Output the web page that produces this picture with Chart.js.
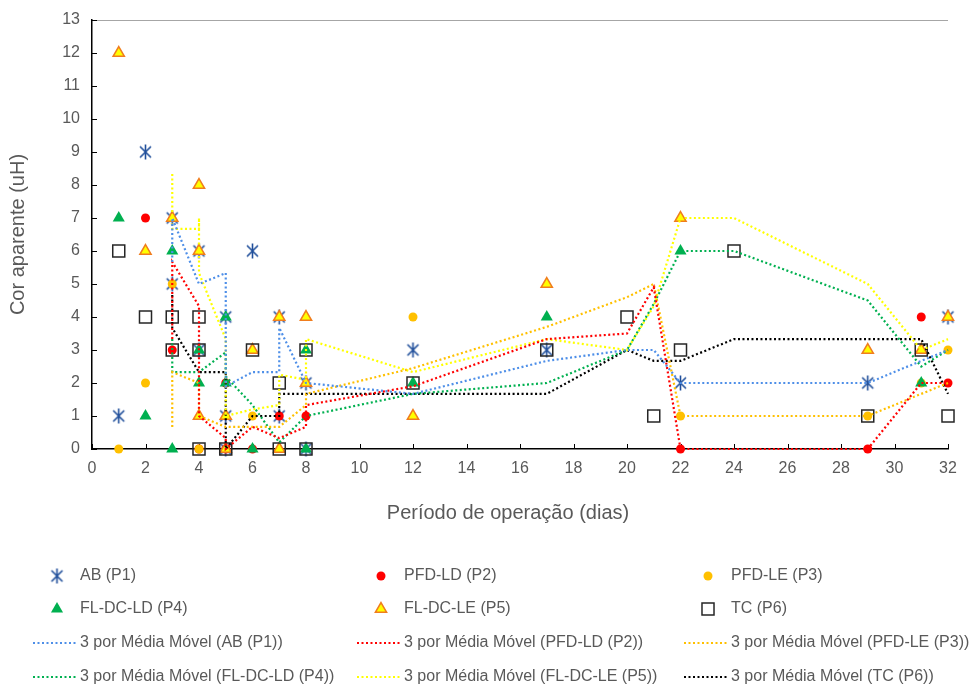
<!DOCTYPE html>
<html>
<head>
<meta charset="utf-8">
<script src="https://cdn.jsdelivr.net/npm/chart.js@4.4.0/dist/chart.umd.min.js"></script>
<style>
  html, body { margin: 0; padding: 0; background: #fff; }
</style>
</head>
<body>
<canvas id="CorChart" width="974" height="688"></canvas>
<script>
// readings per sample point (x = day, y = apparent colour)
var abX = [1, 2, 3, 3, 4, 4, 5, 5, 5, 6, 7, 7, 8, 8, 12, 17, 22, 29, 32];
var abY = [1, 9, 7, 5, 6, 3, 4, 1, 0, 6, 4, 1, 2, 0, 3, 3, 2, 2, 4];

var pfdLdX = [2, 3, 4, 5, 5, 6, 7, 8, 22, 29, 31, 32];
var pfdLdY = [7, 3, 0, 2, 0, 0, 1, 1, 0, 0, 4, 2];

var pfdLeX = [1, 2, 3, 4, 6, 12, 22, 29, 31, 32];
var pfdLeY = [0, 2, 5, 0, 1, 4, 1, 1, 2, 3];

var flLdX = [1, 2, 3, 3, 4, 4, 5, 5, 6, 8, 8, 12, 17, 22, 31];
var flLdY = [7, 1, 6, 0, 3, 2, 4, 2, 0, 3, 0, 2, 4, 6, 2];

var flLeX = [1, 2, 3, 4, 4, 4, 5, 5, 6, 7, 7, 8, 8, 12, 17, 22, 29, 31, 32];
var flLeY = [12, 6, 7, 8, 6, 1, 1, 0, 3, 4, 0, 4, 2, 1, 5, 7, 3, 3, 4];

var tcX = [1, 2, 3, 3, 4, 4, 4, 5, 6, 7, 7, 8, 8, 12, 17, 20, 21, 22, 24, 29, 31, 32];
var tcY = [6, 4, 4, 3, 4, 3, 0, 0, 3, 2, 0, 3, 0, 2, 3, 4, 1, 3, 6, 1, 3, 1];

// 3 period moving average trendlines
var maAbX = [3, 3, 4, 5, 5, 6, 7, 7, 8, 8, 12, 17, 20, 21, 22, 29, 31, 32];
var maAbY = [5.67, 7, 5, 5.33, 1.9, 2.33, 2.33, 3.67, 2, 2, 1.67, 2.67, 3, 3, 2, 2, 2.67, 3];

var maPfdLdX = [3, 3, 4, 4, 5, 5, 6, 7, 8, 8, 12, 17, 20, 21, 22, 29, 31, 32];
var maPfdLdY = [3.33, 5.67, 4.33, 1, 0.33, 0, 0.67, 0.33, 0.67, 1.33, 1.9, 3.33, 3.5, 4.9, 0, 0, 2, 2];

var maPfdLeX = [3, 3, 4, 4, 5, 6, 7, 8, 8, 12, 17, 20, 21, 22, 29, 31, 32];
var maPfdLeY = [0.67, 2.33, 2, 1, 0.67, 0.67, 0.67, 1.33, 1.67, 2.45, 3.7, 4.6, 5, 1, 1, 1.67, 2];

var maFlLdX = [3, 3, 4, 4, 5, 5, 6, 7, 8, 12, 17, 20, 21, 22, 24, 29, 31, 32];
var maFlLdY = [3.33, 2.33, 2.33, 2.33, 2.93, 2.2, 1.33, 0.2, 1, 1.67, 2, 3, 4.4, 6, 6, 4.5, 2.5, 3];

var maFlLeX = [3, 3, 4, 4, 4, 5, 5, 6, 7, 7, 8, 8, 12, 17, 20, 21, 22, 24, 29, 31, 32];
var maFlLeY = [8.33, 6.67, 6.67, 7, 5.33, 3.33, 1, 1.2, 1.33, 2.25, 2.1, 3.33, 2.33, 3.33, 3, 4.33, 7, 7, 5, 3, 3.33];

var maTcX = [3, 3, 4, 4, 4, 5, 5, 5, 6, 7, 7, 8, 8, 12, 17, 20, 21, 22, 24, 29, 31, 32];
var maTcY = [4.67, 3.67, 2.33, 2.33, 2.33, 2.33, 1, 0, 1, 1, 1.67, 1.67, 1.67, 1.67, 1.67, 3, 2.67, 2.67, 3.33, 3.33, 3.33, 1.67];

var xTicks = [0, 2, 4, 6, 8, 10, 12, 14, 16, 18, 20, 22, 24, 26, 28, 30, 32];
var yTicks = [0, 1, 2, 3, 4, 5, 6, 7, 8, 9, 10, 11, 12, 13];

var xTitle = 'Período de operação (dias)';

Chart.defaults.font.family = "'Liberation Sans', Arial, sans-serif";
Chart.defaults.color = '#595959';

function toPoints(xs, ys) {
  return xs.map(function (x, i) {
    return { x: x, y: ys[i] };
  });
}

// excel style asterisk: an X with a vertical bar
function makeAsterisk(color) {
  var c = document.createElement('canvas');
  c.width = 17;
  c.height = 17;
  var g = c.getContext('2d');
  g.strokeStyle = color;
  g.lineWidth = 1.6;
  g.beginPath();
  g.moveTo(8.5, 1); g.lineTo(8.5, 16);
  g.moveTo(3, 3); g.lineTo(14, 14);
  g.moveTo(3, 14); g.lineTo(14, 3);
  g.stroke();
  return c;
}

function markerSet(label, xs, ys, style, fill, border, bw, radius, order) {
  return {
    label: label,
    data: toPoints(xs, ys),
    showLine: false,
    pointStyle: style,
    pointRadius: radius,
    pointHoverRadius: radius,
    pointBackgroundColor: fill,
    pointBorderColor: border,
    pointBorderWidth: bw,
    clip: false,
    order: order
  };
}

function trendSet(label, xs, ys, color) {
  return {
    label: label,
    data: toPoints(xs, ys),
    showLine: true,
    borderColor: color,
    borderWidth: 2.2,
    borderDash: [2, 2.5],
    pointRadius: 0,
    pointHoverRadius: 0,
    fill: false,
    tension: 0,
    clip: false,
    order: 0
  };
}

var star = makeAsterisk('#1F4E9A');

var datasets = [
  markerSet('AB (P1)', abX, abY, star, '#1F4E9A', '#1F4E9A', 0, 8, 6),
  markerSet('PFD-LD (P2)', pfdLdX, pfdLdY, 'circle', '#FF0000', '#FF0000', 0, 4.5, 5),
  markerSet('PFD-LE (P3)', pfdLeX, pfdLeY, 'circle', '#FFC000', '#FFC000', 0, 4.5, 4),
  markerSet('FL-DC-LD (P4)', flLdX, flLdY, 'triangle', '#00B050', '#00B050', 0, 7, 3),
  markerSet('FL-DC-LE (P5)', flLeX, flLeY, 'triangle', '#FFFF00', '#F07D1E', 1.5, 6.5, 2),
  markerSet('TC (P6)', tcX, tcY, 'rect', 'rgba(0,0,0,0)', '#262626', 1.5, 8.5, 1),
  trendSet('3 por Média Móvel (AB (P1))', maAbX, maAbY, '#4E8FE8'),
  trendSet('3 por Média Móvel (PFD-LD (P2))', maPfdLdX, maPfdLdY, '#FF0000'),
  trendSet('3 por Média Móvel (PFD-LE (P3))', maPfdLeX, maPfdLeY, '#FFC000'),
  trendSet('3 por Média Móvel (FL-DC-LD (P4))', maFlLdX, maFlLdY, '#00B050'),
  trendSet('3 por Média Móvel (FL-DC-LE (P5))', maFlLeX, maFlLeY, '#FFFF00'),
  trendSet('3 por Média Móvel (TC (P6))', maTcX, maTcY, '#000000')
];

var legendCols = [57, 381, 708];
var legendRows = [576, 609, 643, 677];

var decor = {
  id: 'decor',
  beforeDatasetsDraw: function (chart) {
    var ctx = chart.ctx, a = chart.chartArea;
    var sx = chart.scales.x, sy = chart.scales.y;
    ctx.save();
    ctx.strokeStyle = '#a6a6a6';
    ctx.lineWidth = 1;
    ctx.beginPath();
    ctx.moveTo(a.left, a.top + 0.5);
    ctx.lineTo(a.right, a.top + 0.5);
    ctx.stroke();

    ctx.strokeStyle = '#000';
    ctx.lineWidth = 1;
    ctx.beginPath();
    xTicks.forEach(function (v) {
      var px = Math.round(sx.getPixelForValue(v)) + 0.5;
      ctx.moveTo(px, a.bottom);
      ctx.lineTo(px, a.bottom - 5);
    });
    yTicks.forEach(function (v) {
      var py = Math.round(sy.getPixelForValue(v)) + 0.5;
      ctx.moveTo(a.left, py);
      ctx.lineTo(a.left + 5, py);
    });
    ctx.stroke();

    // x axis title, sits a little left of the plot centre like the original
    ctx.fillStyle = '#595959';
    ctx.font = "20px 'Liberation Sans', Arial, sans-serif";
    ctx.textAlign = 'center';
    ctx.textBaseline = 'middle';
    ctx.fillText(xTitle, (a.left + a.right) / 2 - 12, 513);
    ctx.restore();
  },
  afterDraw: function (chart) {
    var ctx = chart.ctx;
    ctx.save();
    ctx.font = "16px 'Liberation Sans', Arial, sans-serif";
    ctx.textBaseline = 'middle';
    ctx.textAlign = 'left';
    chart.data.datasets.forEach(function (ds, i) {
      var cx = legendCols[i % 3];
      var cy = legendRows[Math.floor(i / 3)];
      if (ds.showLine) {
        ctx.strokeStyle = ds.borderColor;
        ctx.lineWidth = 2.2;
        ctx.setLineDash([2, 2.5]);
        ctx.beginPath();
        ctx.moveTo(cx - 24, cy);
        ctx.lineTo(cx + 20, cy);
        ctx.stroke();
        ctx.setLineDash([]);
      } else {
        ctx.fillStyle = ds.pointBackgroundColor;
        ctx.strokeStyle = ds.pointBorderColor;
        ctx.lineWidth = ds.pointBorderWidth;
        Chart.helpers.drawPoint(ctx, {
          pointStyle: ds.pointStyle,
          radius: ds.pointRadius,
          borderWidth: ds.pointBorderWidth,
          rotation: 0
        }, cx, cy);
      }
      ctx.fillStyle = '#595959';
      ctx.fillText(ds.label, cx + 23, cy);
    });
    ctx.restore();
  }
};

var ctx = document.getElementById('CorChart').getContext('2d');
window.corChart = new Chart(ctx, {
  type: 'scatter',
  data: { datasets: datasets },
  options: {
    responsive: false,
    animation: false,
    layout: { padding: { left: 0, top: 20, right: 26, bottom: 163 } },
    plugins: {
      legend: { display: false },
      tooltip: { enabled: false }
    },
    scales: {
      x: {
        type: 'linear',
        min: 0,
        max: 32,
        afterFit: function (scale) { scale.height = 76; },
        afterBuildTicks: function (scale) {
          scale.ticks = xTicks.map(function (v) { return { value: v }; });
        },
        ticks: { font: { size: 16 }, padding: 2, maxRotation: 0, autoSkip: false },
        grid: { display: false },
        border: { display: true, color: '#000', width: 1.5 }
      },
      y: {
        type: 'linear',
        min: 0,
        max: 13,
        afterFit: function (scale) { scale.width = 92; },
        afterBuildTicks: function (scale) {
          scale.ticks = yTicks.map(function (v) { return { value: v }; });
        },
        ticks: { font: { size: 16 }, padding: 4 },
        grid: { display: false },
        border: { display: true, color: '#000', width: 1.5 },
        title: {
          display: true,
          text: 'Cor aparente (uH)',
          font: { size: 20 },
          padding: { top: 6, bottom: 0 }
        }
      }
    }
  },
  plugins: [decor]
});
</script>
</body>
</html>
